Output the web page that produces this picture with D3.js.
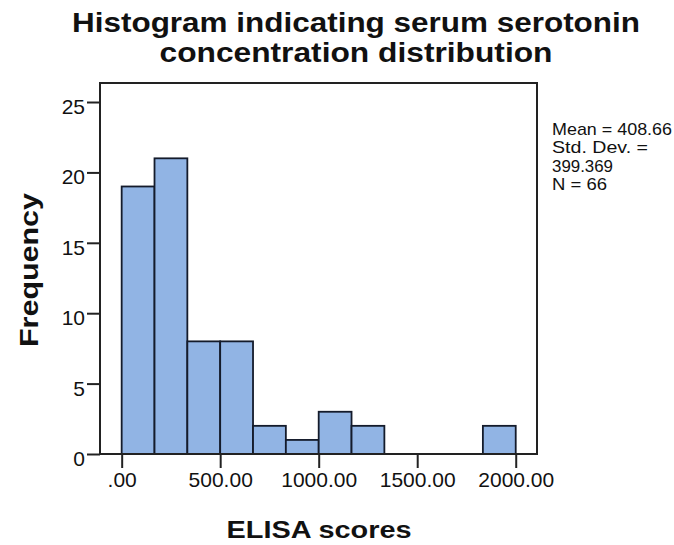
<!DOCTYPE html>
<html lang="en">
<head>
<meta charset="UTF-8">
<title>Histogram indicating serum serotonin concentration distribution</title>
<script src="https://cdnjs.cloudflare.com/ajax/libs/d3/7.8.5/d3.min.js"></script>
<style>
  body { margin: 0; padding: 0; background: #ffffff; font-family: "Liberation Sans", Arial, sans-serif; }
  svg text { fill: #111; }
</style>
</head>
<body>
<div id="chart"></div>
<script>
// bin edges (ELISA scores) and frequencies
const binEdges = [0, 166.67, 333.33, 500, 666.67, 833.33, 1000, 1166.67, 1333.33, 1500, 1666.67, 1833.33, 2000];
const counts   = [19, 21, 8, 8, 2, 1, 3, 2, 0, 0, 0, 2];
const xTicks = [0, 500, 1000, 1500, 2000];
const yTicks = [0, 5, 10, 15, 20, 25];
const titleLines = ["Histogram indicating serum serotonin", "concentration distribution"];
const statsLines = ["Mean = 408.66", "Std. Dev. =", "399.369", "N = 66"];
const statsWidths = [120, 96, 61, 55];

const width = 674, height = 545;
const plot = {left: 100, right: 537, top: 83, bottom: 454};

const svg = d3.select("#chart").append("svg")
    .attr("width", width)
    .attr("height", height);

const x = d3.scaleLinear().domain([-110, 2108]).range([plot.left, plot.right]);
const y = d3.scaleLinear().domain([0, 26.35]).range([plot.bottom, plot.top]);

const bins = counts.map((c, i) => ({x0: binEdges[i], x1: binEdges[i + 1], n: c}));

// bars
svg.append("g").selectAll("rect")
    .data(bins.filter(d => d.n > 0))
    .join("rect")
    .attr("x", d => x(d.x0))
    .attr("y", d => y(d.n))
    .attr("width", d => x(d.x1) - x(d.x0))
    .attr("height", d => y(0) - y(d.n))
    .attr("fill", "#91b4e4")
    .attr("stroke", "#141b2b")
    .attr("stroke-width", 1.8);

// frame
svg.append("rect")
    .attr("x", plot.left).attr("y", plot.top)
    .attr("width", plot.right - plot.left)
    .attr("height", plot.bottom - plot.top)
    .attr("fill", "none")
    .attr("stroke", "#222")
    .attr("stroke-width", 2);

// axes
const yAxis = d3.axisLeft(y).tickValues(yTicks).tickSize(13).tickPadding(2).tickFormat(d3.format("d"));
const gy = svg.append("g").attr("transform", `translate(${plot.left},0)`).call(yAxis);
gy.select(".domain").remove();
gy.selectAll(".tick line").attr("stroke", "#222").attr("stroke-width", 2);
gy.selectAll(".tick text")
    .attr("font-family", "'Liberation Sans', Arial, sans-serif")
    .attr("font-size", 21)
    .attr("dy", "0.55em")
    .attr("fill", "#111");

const xAxis = d3.axisBottom(x).tickValues(xTicks).tickSize(14).tickPadding(4)
    .tickFormat(d => d === 0 ? ".00" : d3.format(".2f")(d));
const gx = svg.append("g").attr("transform", `translate(0,${plot.bottom})`).call(xAxis);
gx.select(".domain").remove();
gx.selectAll(".tick line").attr("stroke", "#222").attr("stroke-width", 2);
gx.selectAll(".tick text")
    .attr("font-family", "'Liberation Sans', Arial, sans-serif")
    .attr("font-size", 21)
    .attr("fill", "#111");

// title
svg.append("g").selectAll("text")
    .data(titleLines)
    .join("text")
    .attr("x", 356)
    .attr("y", (d, i) => 32 + i * 30)
    .attr("text-anchor", "middle")
    .attr("font-size", 28)
    .attr("font-weight", "bold")
    .attr("textLength", (d, i) => i === 0 ? 568 : 393)
    .attr("lengthAdjust", "spacingAndGlyphs")
    .text(d => d);

// axis titles
svg.append("text")
    .attr("transform", "translate(38,270) rotate(-90)")
    .attr("text-anchor", "middle")
    .attr("font-size", 26)
    .attr("font-weight", "bold")
    .attr("textLength", 154)
    .attr("lengthAdjust", "spacingAndGlyphs")
    .text("Frequency");

svg.append("text")
    .attr("x", 319)
    .attr("y", 538)
    .attr("text-anchor", "middle")
    .attr("font-size", 23)
    .attr("font-weight", "bold")
    .attr("textLength", 185)
    .attr("lengthAdjust", "spacingAndGlyphs")
    .text("ELISA scores");

// summary statistics
svg.append("g").selectAll("text")
    .data(statsLines)
    .join("text")
    .attr("x", 552)
    .attr("y", (d, i) => 135 + i * 18.4)
    .attr("font-size", 17)
    .attr("textLength", (d, i) => statsWidths[i])
    .attr("lengthAdjust", "spacingAndGlyphs")
    .text(d => d);
</script>
</body>
</html>
